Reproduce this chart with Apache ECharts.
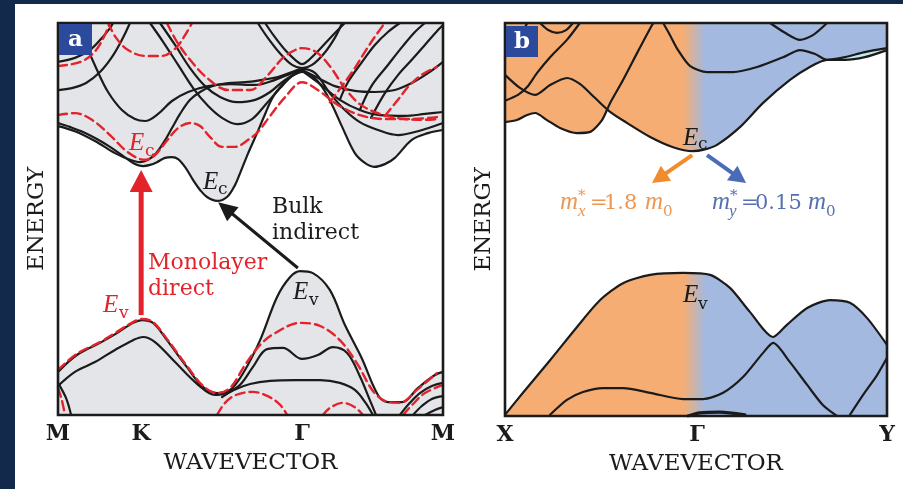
<!DOCTYPE html>
<html>
<head>
<meta charset="utf-8">
<script src="https://cdn.jsdelivr.net/npm/echarts@6/dist/echarts.min.js"></script>
<style>
  html, body { margin: 0; padding: 0; background: #13294b; }
  #paper { position: absolute; left: 15px; top: 4px; width: 888px; height: 485px; background: #ffffff; }
  #c { position: absolute; left: 0; top: 0; width: 903px; height: 489px; }
</style>
</head>
<body>
<div id="paper"></div>
<div id="c"></div>
<script>
// ---------- k-path ticks ----------
const pathA = [0, 21.6, 63.4, 100];
const pathALabels = ['M', 'K', 'Γ', 'M'];
const pathB = [0, 50.3, 100];
const pathBLabels = ['X', 'Γ', 'Y'];

// ---------- panel a: bulk conduction bands (solid) ----------
const bulkC1 = [[0,74.5],[3.1,73.5],[6.5,72.2],[10.1,70.4],[13.5,68.4],[16.6,66.3],[19.5,64.3],[22.1,63.5],[23.9,63.8],[25.7,64.5],[27.8,65.6],[29.6,65.8],[31.2,65.3],[33.2,63.0],[35.1,59.9],[36.9,57.4],[38.7,55.6],[41.3,54.6],[43.9,55.6],[46.0,58.7],[47.3,61.7],[49.4,66.8],[51.7,71.9],[53.8,76.8],[55.8,81.1],[58.2,84.2],[60.3,86.2],[63.6,87.5],[66.0,86.5],[68.6,83.7],[71.2,79.1],[73.8,73.5],[77.1,66.8],[79.7,64.3],[82.1,63.3],[84.9,64.0],[87.5,65.6],[91.9,70.2],[96.1,71.9],[100,72.7]];
const bulkC2 = [[0,73.7],[4.4,72.4],[9.6,69.9],[14.8,66.8],[18.7,65.1],[21.3,64.5],[23.4,65.1],[25.5,66.8],[27.5,69.6],[29.6,73.2],[31.7,76.8],[34.3,80.4],[36.9,82.4],[40.0,83.9],[44.2,84.7],[48.6,84.9],[53.0,85.5],[57.1,86.2],[60.8,87.5],[63.4,88.3],[66.8,87.2],[70.6,82.1],[74.5,77.8],[78.4,74.7],[83.1,72.7],[88.3,71.4],[93.5,72.4],[100,74.5]];
const bulkC3 = [[5.2,100],[7.3,94.4],[9.9,88.5],[13.0,82.4],[16.6,77.8],[20.0,75.5],[22.6,75.0],[26.0,76.8],[29.6,80.1],[33.8,82.4],[39.0,83.9],[44.7,84.4],[51.2,84.2],[56.4,85.5],[60.8,87.2],[63.4,88.0]];
const bulkC4 = [[23.9,100],[27.3,95.2],[31.2,89.3],[35.1,83.4],[39.0,78.8],[42.6,75.8],[46.5,74.2],[50.4,75.5],[54.0,79.3],[57.7,83.4],[60.8,86.5],[63.4,88.0]];
const bulkC5 = [[26.5,100],[30.4,94.4],[34.3,88.5],[38.2,83.9],[42.1,81.1],[46.5,79.8],[51.2,80.4],[55.1,82.4],[59.0,85.5],[63.4,87.8]];
const bulkC6 = [[0,90.1],[4.4,91.1],[8.3,93.1],[11.4,96.2],[13.5,98.7],[14.3,100]];
const bulkC7 = [[0,82.9],[3.6,83.4],[7.3,84.7],[10.9,87.5],[14.0,91.3],[16.6,95.7],[18.7,100]];
const bulkC8 = [[51.9,100],[54.5,96.2],[57.7,92.2],[60.8,89.3],[63.4,88.5],[66.0,89.3],[69.1,92.2],[71.9,96.2],[73.8,100]];
const bulkC9 = [[53.8,100],[56.1,96.7],[59.0,93.1],[61.6,90.6],[63.4,89.5],[65.2,90.6],[67.8,93.1],[71.2,96.7],[74.5,100]];
const bulkC10 = [[63.4,88.0],[67.5,86.0],[71.9,83.9],[77.1,82.7],[82.3,82.4],[87.5,82.9],[91.9,84.7],[96.1,87.2],[100,90.1]];
const bulkC11 = [[63.4,87.8],[68.1,84.4],[73.2,80.4],[78.4,77.8],[83.6,76.5],[90.1,76.3],[95.3,76.8],[100,77.3]];
const bulkC12 = [[73.2,80.4],[75.3,84.9],[79.0,90.1],[82.3,94.4],[85.7,97.7],[88.8,100]];
const bulkC13 = [[78.4,77.8],[81.6,84.2],[85.7,89.3],[89.4,93.9],[92.7,97.7],[95.3,100]];
const bulkC14 = [[81.3,75.8],[84.9,82.1],[88.3,86.7],[91.9,90.6],[95.3,94.4],[98.7,98.2],[100,99.5]];

// ---------- panel a: monolayer conduction bands (dashed) ----------
const monoC1 = [[0,76.5],[4.4,77.0],[8.8,75.3],[13.5,71.4],[17.4,67.6],[20.5,65.6],[22.6,65.1],[25.2,66.3],[27.8,69.4],[31.2,73.2],[34.3,74.5],[36.9,73.7],[39.5,70.9],[42.6,68.4],[46.0,68.4],[49.4,70.2],[51.9,72.2],[55.1,76.3],[59.0,81.1],[63.4,84.9],[67.5,82.9],[72.7,79.1],[78.4,76.5],[84.9,75.5],[91.4,75.5],[98.4,76.0]];
const monoC2 = [[28.3,100],[30.9,95.2],[34.3,90.6],[38.7,86.0],[44.2,82.9],[49.9,82.9],[54.5,86.7],[58.4,91.1],[61.6,93.1],[63.4,93.6],[67.0,92.6],[70.6,89.0],[74.5,83.4],[78.4,79.3],[83.6,76.8],[90.1,75.5],[95.3,75.3],[98.4,75.5]];
const monoC3 = [[70.6,79.8],[74.0,84.2],[77.1,88.5],[80.0,93.1],[82.6,96.9],[84.9,100]];
const monoC4 = [[84.9,76.3],[88.3,80.4],[91.4,84.2],[94.8,87.0],[98.4,88.8]];
const monoC5 = [[0,89.0],[3.6,89.5],[7.0,90.6],[9.9,93.1],[11.9,96.4],[13.5,100]];
const monoC6 = [[13.0,100],[15.1,96.2],[18.2,93.1],[22.6,91.6],[27.0,91.6],[30.6,93.6],[33.0,96.9],[34.8,100]];

// ---------- panel a: valence bands ----------
const bulkV1 = [[0,11.0],[4.9,15.3],[10.9,18.4],[15.3,20.9],[19.5,23.5],[21.8,24.2],[24.7,23.5],[28.3,19.1],[33.5,12.2],[37.7,7.1],[41.3,5.6],[44.7,6.4],[48.1,10.7],[52.5,19.1],[56.9,30.1],[60.3,35.2],[62.9,36.7],[66.2,36.2],[70.6,31.9],[74.5,23.0],[78.9,14.5],[83.1,5.1],[85.7,3.3],[89.4,3.3],[93.5,6.9],[97.9,10.2],[100,11.0]];
const bulkV2 = [[0,7.4],[4.4,11.0],[9.6,13.5],[14.8,16.6],[19.5,19.1],[22.1,19.9],[25.2,18.6],[30.4,13.5],[36.4,7.7],[40.8,5.1],[44.2,5.9],[47.3,7.7],[50.6,12.2],[54.3,16.8],[58.4,17.1],[63.4,14.3],[67.5,15.3],[71.4,17.3],[75.1,15.8],[78.4,9.9],[81.0,3.8],[82.6,0]];
const bulkV3 = [[42.6,4.6],[45.7,6.4],[49.9,7.9],[55.1,8.7],[61.6,8.9],[68.1,8.9],[73.2,8.2],[77.1,6.4],[79.9,3.1],[81.8,0]];
const bulkV4 = [[0,8.2],[2.1,4.3],[3.4,0]];
const bulkV5 = [[88.8,0],[91.4,3.1],[94.0,5.6],[97.1,7.4],[100,8.2]];
const bulkV6 = [[92.2,0],[94.5,2.3],[97.1,4.1],[100,4.8]];
const bulkV7 = [[95.3,0],[97.9,1.3],[100,2.0]];
const monoV1 = [[0,11.5],[4.9,15.6],[10.9,18.6],[15.3,21.2],[19.5,23.7],[21.8,24.5],[24.7,23.7],[28.3,19.4],[33.5,12.5],[37.7,7.4],[41.3,5.6],[44.7,6.9],[48.6,12.8],[52.5,17.9],[56.4,20.9],[62.9,23.5],[68.1,22.7],[73.2,19.1],[77.9,12.8],[81.6,6.4],[84.9,3.6],[88.8,3.1],[93.2,6.4],[98.4,10.7]];
const monoV2 = [[0,6.9],[1.0,3.8],[1.8,0]];
const monoV3 = [[41.3,0],[43.4,3.1],[46.2,5.1],[50.6,5.9],[54.5,4.8],[57.7,2.6],[59.5,0]];
const monoV4 = [[68.8,0],[70.6,1.8],[74.0,3.1],[77.1,2.0],[79.2,0]];
const monoV5 = [[89.6,0],[92.2,2.8],[95.3,5.6],[100,7.7]];

// ---------- panel b: bands along X-Γ-Y ----------
const ecBand = [[0,86.8],[3.9,83.5],[7.9,81.7],[11.8,84.2],[16.2,86.0],[19.6,84.5],[23.6,80.9],[27.5,77.4],[31.9,74.6],[38.0,71.0],[44.0,68.4],[49.2,67.4],[51.8,67.7],[55.5,69.0],[61.5,73.5],[67.5,79.6],[74.6,85.5],[79.8,88.8],[84.3,90.6]];
const lensBottom = [[84.3,90.6],[89.0,90.6],[94.2,91.3],[100,93.1]];
const lensTop = [[84.3,90.6],[89.0,91.3],[94.2,92.6],[100,93.6]];
const cbXY2 = [[0,74.8],[3.1,75.3],[5.8,76.6],[7.9,77.1],[11.0,75.3],[14.4,73.3],[18.8,72.0],[22.3,72.3],[25.4,75.3],[27.5,79.6],[30.9,85.5],[34.6,92.4],[38.5,99.5],[39.0,100]];
const cbXY3 = [[0,80.2],[3.4,81.7],[5.8,83.7],[8.4,87.3],[11.8,91.3],[16.2,95.7],[19.6,100]];
const cbXY4 = [[0,91.3],[1.8,93.6],[3.9,96.4],[5.8,100]];
const cbXY5 = [[9.2,100],[11.3,98.2],[13.6,97.5],[16.0,98.2],[17.8,100]];
const cbXY6 = [[41.4,100],[43.2,96.9],[45.3,93.1],[48.4,89.1],[52.9,87.5],[59.7,87.5],[66.0,88.8],[72.8,91.3],[77.2,93.1],[81.2,92.1],[84.3,90.6]];
const cbXY7 = [[69.4,100],[73.3,97.5],[77.2,95.7],[80.6,96.9],[84.3,100]];
const vbXY1 = [[0,0.3],[4.7,5.9],[11.8,14.2],[18.8,22.6],[24.9,29.5],[30.9,33.8],[38.0,35.9],[46.6,36.4],[53.7,35.9],[58.9,32.6],[64.1,26.5],[70.2,20.1],[73.8,23.2],[79.1,27.5],[85.1,29.5],[90.3,28.8],[94.8,24.9],[100,18.1]];
const vbXY2 = [[11.8,0.3],[16.2,4.1],[20.4,6.1],[25.7,7.1],[30.9,7.1],[38.0,5.9],[46.6,4.3],[51.8,4.3],[57.1,5.9],[62.3,9.9],[67.5,16.0],[70.2,18.6],[74.6,13.7],[79.1,7.9],[83.2,2.8],[86.9,0]];
const vbXY3 = [[90.3,0.3],[93.7,5.3],[97.4,10.4],[100,14.8]];
const vbXY4 = [[47.9,0],[51.0,0.8],[56.3,1.0],[62.8,0.3]];

// ---------- gap arrows: [k from, E from, k to, E to] ----------
const directGap = [21.6, 25.5, 21.6, 62.5];
const indirectGap = [62.3, 37.5, 41.6, 54.3];
const massX = [49.0, 66.4, 38.5, 59.3];
const massY = [52.9, 66.4, 63.1, 59.3];

// ---------- styling ----------
const INK = '#1b1b1b', RED = '#e3232b', GREY = '#e4e5e8';
const ORANGE = '#f5ad73', BLUE = '#a3b9df', LENS = '#c3e9f1';
const ORANGE_TXT = '#ef9650', BLUE_TXT = '#5670b0';
const SERIF = "'DejaVu Serif', serif";
const TIMES = "'Liberation Serif', serif";
const GA = { left: 58, top: 23, width: 385, height: 392 };
const GB = { left: 505, top: 23, width: 382, height: 393 };

const fadeXY = new echarts.graphic.LinearGradient(
  GB.left + GB.width * 0.466, 0, GB.left + GB.width * 0.524, 0,
  [{ offset: 0, color: ORANGE }, { offset: 1, color: BLUE }], true);

function band(data, g, color, dashed, smooth) {
  return {
    type: 'line', xAxisIndex: g, yAxisIndex: g, data: data, showSymbol: false, symbol: 'none',
    smooth: smooth == null ? 0.35 : smooth, silent: true, z: dashed ? 4 : 3,
    lineStyle: { color: color, width: dashed ? 2.4 : 2.2, type: dashed ? [9, 5] : 'solid', cap: 'round', join: 'round' }
  };
}
function fill(data, g, color, origin, smooth) {
  return {
    type: 'line', xAxisIndex: g, yAxisIndex: g, data: data, showSymbol: false, symbol: 'none',
    smooth: smooth == null ? 0.35 : smooth, silent: true, z: 1,
    lineStyle: { width: 0, opacity: 0 },
    areaStyle: { color: color, opacity: 1, origin: origin }
  };
}
function arrow(g, pts, color, width, headLen, headW) {
  return {
    type: 'custom', xAxisIndex: g, yAxisIndex: g, silent: true, z: 6,
    data: [pts], encode: { x: [0, 2], y: [1, 3] },
    renderItem: function (params, api) {
      const a = api.coord([api.value(0), api.value(1)]);
      const b = api.coord([api.value(2), api.value(3)]);
      const dx = b[0] - a[0], dy = b[1] - a[1], len = Math.hypot(dx, dy);
      const ux = dx / len, uy = dy / len, nx = -uy, ny = ux;
      const bx = b[0] - ux * headLen, by = b[1] - uy * headLen;
      return {
        type: 'group', children: [
          { type: 'line', shape: { x1: a[0], y1: a[1], x2: bx + ux * 2, y2: by + uy * 2 },
            style: { stroke: color, lineWidth: width } },
          { type: 'polygon', shape: { points: [[b[0], b[1]], [bx + nx * headW / 2, by + ny * headW / 2], [bx - nx * headW / 2, by - ny * headW / 2]] },
            style: { fill: color } }
        ]
      };
    }
  };
}
function xAxisFor(g, ticks, names) {
  return {
    type: 'value', gridIndex: g, min: 0, max: 100,
    axisLine: { show: false }, axisTick: { show: false }, splitLine: { show: false },
    axisLabel: {
      customValues: ticks, margin: 8, color: INK, fontFamily: SERIF, fontWeight: 'bold', fontSize: 22,
      formatter: function (v) { const i = ticks.indexOf(v); return i < 0 ? '' : names[i]; }
    },
    name: 'WAVEVECTOR', nameLocation: 'middle', nameGap: 37,
    nameTextStyle: { color: INK, fontFamily: SERIF, fontSize: 23 }
  };
}
function yAxisFor(g) {
  return {
    type: 'value', gridIndex: g, min: 0, max: 100,
    axisLine: { show: false }, axisTick: { show: false }, splitLine: { show: false }, axisLabel: { show: false },
    name: 'ENERGY', nameLocation: 'middle', nameGap: 9,
    nameTextStyle: { color: INK, fontFamily: SERIF, fontSize: 23 }
  };
}
// text placed by its baseline
function word(x, baseline, text, size, color, opt) {
  opt = opt || {};
  return {
    type: 'text', x: x, y: baseline - 0.3 * size, z: 100, silent: true,
    style: {
      text: text, fill: color, fontFamily: opt.family || SERIF, fontSize: size,
      fontStyle: opt.italic ? 'italic' : 'normal', fontWeight: opt.bold ? 'bold' : 'normal',
      align: opt.align || 'left', verticalAlign: 'middle'
    }
  };
}
// italic math symbol
function sym(x, baseline, text, size, color) {
  return word(x, baseline, text, size, color, { italic: true, family: TIMES });
}

const series = [];
// panel a fills
series.push(fill(bulkV1, 0, GREY, 'start'));
series.push(fill(bulkC1, 0, GREY, 'end'));
series.push(fill(bulkC2, 0, GREY, 'end'));
// panel a bands
[bulkC1, bulkC2, bulkC3, bulkC4, bulkC5, bulkC6, bulkC7, bulkC8, bulkC9, bulkC10, bulkC11, bulkC12, bulkC13, bulkC14,
 bulkV1, bulkV2, bulkV3, bulkV4, bulkV5, bulkV6, bulkV7].forEach(d => series.push(band(d, 0, INK, false)));
[monoC1, monoC2, monoC3, monoC4, monoC5, monoC6, monoV1, monoV2, monoV3, monoV4, monoV5]
  .forEach(d => series.push(band(d, 0, RED, true)));
series.push(arrow(0, directGap, RED, 5, 22, 23));
series.push(arrow(0, indirectGap, INK, 3, 19, 18));

// panel b fills
const ecFull = ecBand.concat(lensBottom.slice(1));
series.push(fill(vbXY1, 1, fadeXY, 'start', 0.25));
series.push(fill(ecFull, 1, fadeXY, 'end', 0.25));
series.push(fill(cbXY2, 1, fadeXY, 'end', 0.25));
series.push(fill(lensBottom, 1, LENS, 'end', 0.25));
series.push(fill(lensTop, 1, BLUE, 'end', 0.25));
// panel b bands
[ecFull, cbXY2, cbXY3, cbXY4, cbXY5, cbXY6.concat(lensTop.slice(1)), cbXY7, vbXY1, vbXY2, vbXY3]
  .forEach(d => series.push(band(d, 1, INK, false, 0.25)));
const ridge = band(vbXY4, 1, INK, false, 0.25);
ridge.lineStyle.width = 3.2;
series.push(ridge);
series.push(arrow(1, massX, '#f28a2e', 4, 17, 18));
series.push(arrow(1, massY, '#4a6cb8', 4, 17, 18));

const graphics = [
  // panel tags
  { type: 'rect', z: 90, shape: { x: 59, y: 24, width: 33, height: 31 }, style: { fill: '#2b4a9c' } },
  word(75.5, 47, 'a', 23, '#ffffff', { bold: true, align: 'center' }),
  { type: 'rect', z: 90, shape: { x: 506, y: 26, width: 32, height: 31 }, style: { fill: '#2b4a9c' } },
  word(522, 49, 'b', 23, '#ffffff', { bold: true, align: 'center' }),
  // panel a annotations
  sym(129, 151, 'E', 25, RED), word(145, 157, 'c', 17, RED),
  sym(203, 190, 'E', 25, INK), word(218, 195, 'c', 17, INK),
  word(272, 214, 'Bulk', 22, INK), word(272, 240, 'indirect', 22, INK),
  word(148, 270, 'Monolayer', 22, RED), word(148, 296, 'direct', 22, RED),
  sym(103, 313, 'E', 25, RED), word(119, 319, 'v', 17, RED),
  sym(293, 300, 'E', 25, INK), word(309, 306, 'v', 17, INK),
  // panel b annotations
  sym(683, 146, 'E', 25, INK), word(698, 150, 'c', 17, INK),
  sym(683, 303, 'E', 25, INK), word(698, 310, 'v', 17, INK),
  sym(560, 210, 'm', 25, ORANGE_TXT), word(578, 201, '*', 15, ORANGE_TXT),
  sym(578, 217, 'x', 17, ORANGE_TXT), word(590, 210, '=', 21, ORANGE_TXT),
  word(604, 210, '1.8', 21, ORANGE_TXT),
  sym(645, 210, 'm', 25, ORANGE_TXT), word(663, 217, '0', 15, ORANGE_TXT),
  sym(712, 210, 'm', 25, BLUE_TXT), word(730, 201, '*', 15, BLUE_TXT),
  sym(729, 217, 'y', 17, BLUE_TXT), word(741, 210, '=', 21, BLUE_TXT),
  word(755, 210, '0.15', 21, BLUE_TXT),
  sym(808, 210, 'm', 25, BLUE_TXT), word(826, 217, '0', 15, BLUE_TXT)
];

const chart = echarts.init(document.getElementById('c'), null, { renderer: 'canvas', width: 903, height: 489 });
chart.setOption({
  animation: false,
  backgroundColor: 'transparent',
  grid: [
    Object.assign({ show: true, borderColor: INK, borderWidth: 2.6, backgroundColor: 'transparent', z: 10 }, GA),
    Object.assign({ show: true, borderColor: INK, borderWidth: 2.6, backgroundColor: 'transparent', z: 10 }, GB)
  ],
  xAxis: [xAxisFor(0, pathA, pathALabels), xAxisFor(1, pathB, pathBLabels)],
  yAxis: [yAxisFor(0), yAxisFor(1)],
  series: series,
  graphic: graphics
});
</script>
</body>
</html>
